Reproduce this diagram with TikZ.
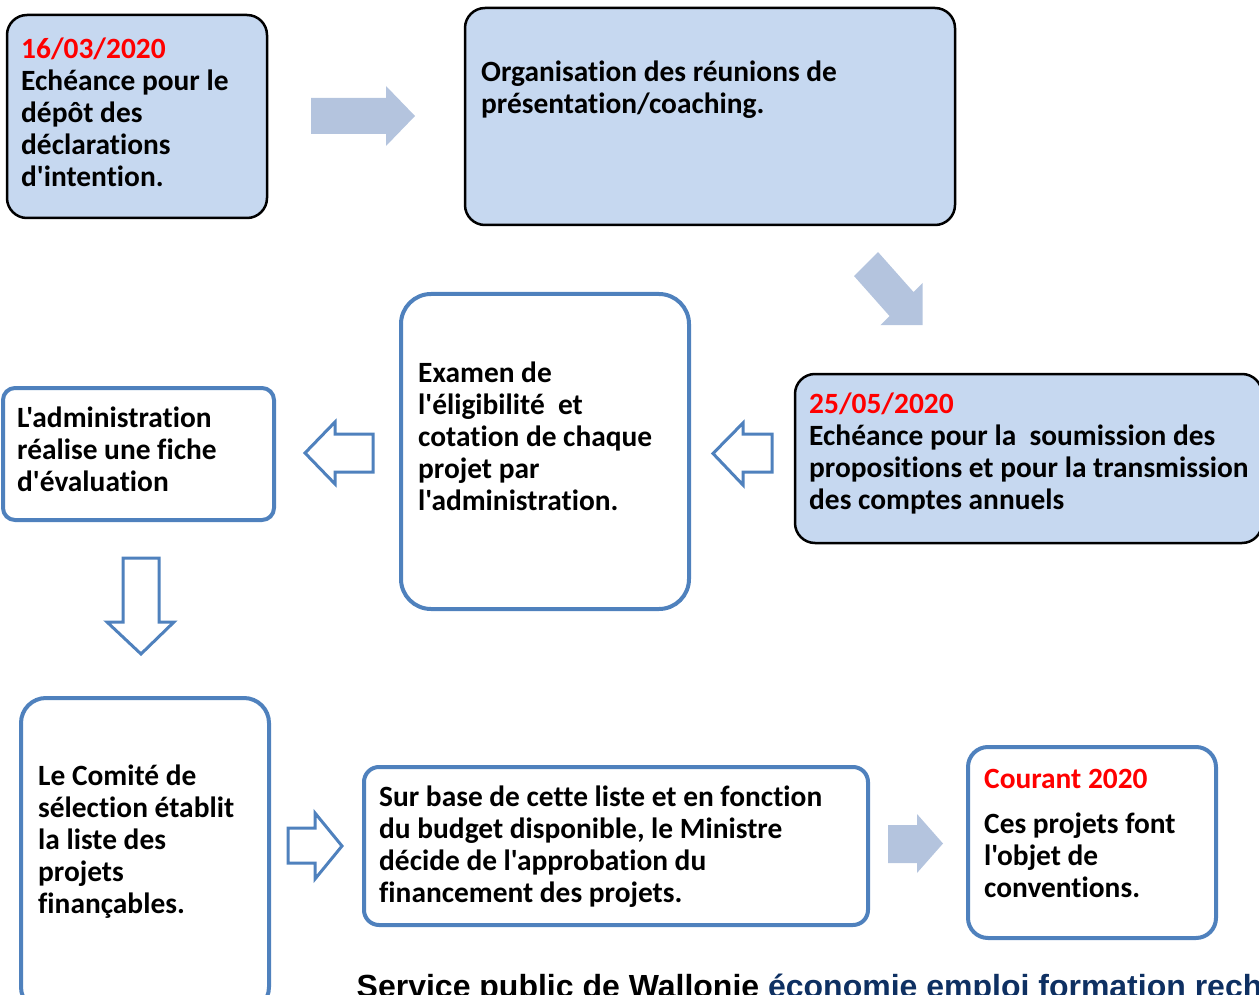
\documentclass[tikz,border=0pt]{standalone}
\usepackage{fontspec}
\setmainfont{Carlito}[Ligatures={TeXOff,CommonOff}]
\newfontfamily\arialb{Liberation Sans}
\definecolor{boxfill}{RGB}{198,216,240}
\definecolor{bordblue}{RGB}{79,129,189}
\definecolor{arrowfill}{RGB}{180,196,222}
\definecolor{navy}{RGB}{14,48,98}
\begin{document}
\begin{tikzpicture}[x=1pt,y=-1pt,
  lbox/.style={draw=black, line width=2.5pt, fill=boxfill, rounded corners=20pt, inner sep=0pt, rectangle},
  obox/.style={draw=bordblue, line width=4pt, fill=white, rounded corners=#1, inner sep=0pt, rectangle},
  txt/.style={anchor=north west, inner sep=0pt, align=left, font=\fontsize{29.4}{32}\selectfont\bfseries},
  farrow/.style={fill=arrowfill, draw=none},
  oarrow/.style={draw=bordblue, line width=3pt, fill=white, line join=miter}]
\useasboundingbox (0,0) rectangle (1259,995);
\clip (0,0) rectangle (1259,995);
% boxes
\node[lbox, minimum width=260pt, minimum height=203pt] (A) at (137,116.5) {};
\node[lbox, minimum width=490pt, minimum height=217pt] (B) at (710,116.5) {};
\node[lbox, minimum width=467pt, minimum height=169pt] (C) at (1028.5,458.5) {};
\node[obox=30pt, minimum width=288pt, minimum height=315pt] (D) at (545,451.5) {};
\node[obox=12pt, minimum width=271pt, minimum height=132pt] (E) at (138.5,454) {};
\node[obox=25pt, minimum width=248pt, minimum height=314pt] (F) at (145,855) {};
\node[obox=15pt, minimum width=504pt, minimum height=158pt] (G) at (616,846) {};
\node[obox=20pt, minimum width=248pt, minimum height=191pt] (H) at (1092,842.5) {};
% texts
\node[txt] (tA) at (21,35.6) {\strut\textcolor{red}{16/03/2020}\\Echéance pour le\\dépôt des\\déclarations\\d'intention.};
\node[txt] (tB) at (481,58.6) {\strut Organisation des réunions de\\présentation/coaching.};
\node[txt] (tC) at (809,390.6) {\strut\textcolor{red}{25/05/2020}\\Echéance pour la\ \ soumission des\\propositions et pour la transmission\\des comptes annuels};
\node[txt] (tD) at (418,359.6) {\strut Examen de\\l'éligibilité\ \ et\\cotation de chaque\\projet par\\l'administration.};
\node[txt] (tE) at (17,404.6) {\strut L'administration\\réalise une fiche\\d'évaluation};
\node[txt] (tF) at (38,762.6) {\strut Le Comité de\\sélection établit\\la liste des\\projets\\finançables.};
\node[txt] (tG) at (379,783.6) {\strut Sur base de cette liste et en fonction\\du budget disponible, le Ministre\\décide de l'approbation du\\financement des projets.};
\node[txt] (tH) at (984,765.6) {\strut\textcolor{red}{Courant 2020}\\[13pt]Ces projets font\\l'objet de\\conventions.};
% arrows
\path[farrow] (311,98) -- (386,98) -- (386,86) -- (415,116) -- (386,146) -- (386,134) -- (311,134) -- cycle;
\path[farrow] (878,252) -- (913.5,292) -- (922.7,282.8) -- (922.7,325.2) -- (880.3,325.2) -- (889.5,316) -- (854,276) -- cycle;
\draw[oarrow] (772,434) -- (743,434) -- (743,423) -- (713,453.5) -- (743,485) -- (743,472) -- (772,472) -- cycle;
\draw[oarrow] (373,434) -- (335,434) -- (335,422) -- (305,453) -- (335,484) -- (335,472) -- (373,472) -- cycle;
\draw[oarrow] (123,558) -- (159,558) -- (159,622) -- (174,622) -- (141,654) -- (107,622) -- (123,622) -- cycle;
\draw[oarrow] (288,828) -- (315,828) -- (315,813) -- (342,846) -- (315,879) -- (315,863) -- (288,863) -- cycle;
\path[farrow] (888,825) -- (917,825) -- (917,814) -- (943,843.5) -- (917,873) -- (917,863) -- (888,863) -- cycle;
% footer
\node[anchor=base west, inner sep=0pt, font=\arialb\fontsize{32}{34}\selectfont\bfseries] (foot) at (356.5,997) {Service public de Wallonie \textcolor{navy}{économie emploi formation recherche}};
\end{tikzpicture}
\end{document}
